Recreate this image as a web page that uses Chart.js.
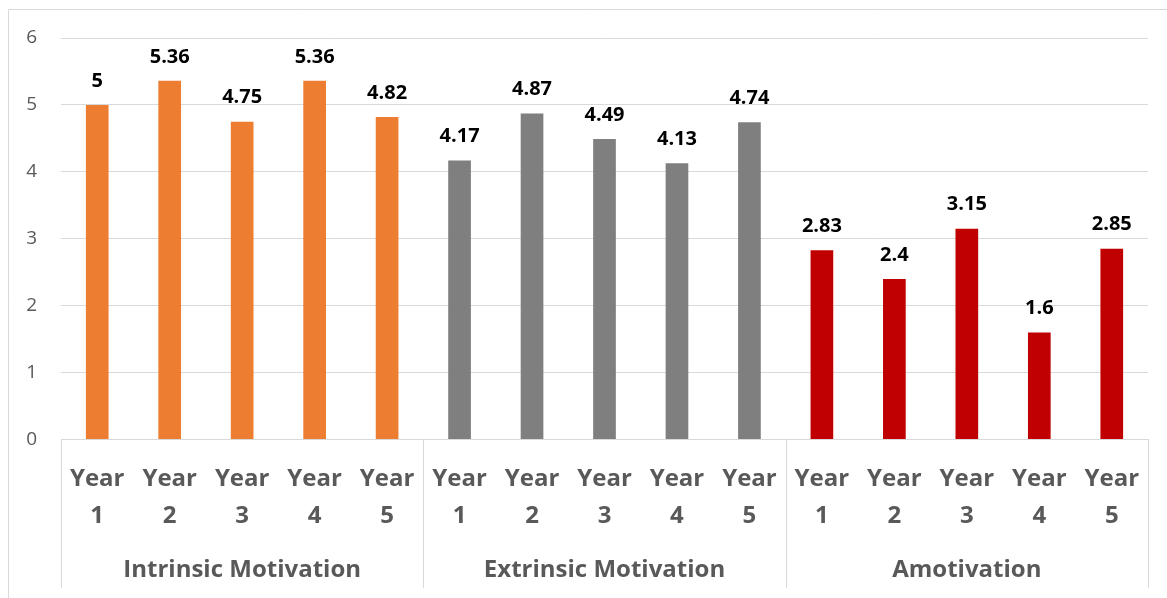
<!DOCTYPE html>
<html>
<head>
<meta charset="utf-8">
<script src="https://cdn.jsdelivr.net/npm/chart.js@4/dist/chart.umd.min.js"></script>
<style>
  html, body { margin: 0; padding: 0; background: #ffffff; }
  #wrap { position: relative; width: 1167px; height: 598px; }
</style>
</head>
<body>
<div id="wrap"><canvas id="c" width="1167" height="598"></canvas></div>
<script>
const groups = ["Intrinsic Motivation", "Extrinsic Motivation", "Amotivation"];
const years = [["Year", "1"], ["Year", "2"], ["Year", "3"], ["Year", "4"], ["Year", "5"]];
const intrinsic = [5, 5.36, 4.75, 5.36, 4.82];
const extrinsic = [4.17, 4.87, 4.49, 4.13, 4.74];
const amotivation = [2.83, 2.4, 3.15, 1.6, 2.85];
const groupColors = ["#ED7D31", "#7F7F7F", "#C00000"];
const yTicks = [0, 1, 2, 3, 4, 5, 6];

const series = [intrinsic, extrinsic, amotivation];
const labels = [];
const values = [];
const colors = [];
series.forEach((s, g) => {
  s.forEach((v, i) => {
    labels.push(years[i]);
    values.push(v);
    colors.push(groupColors[g]);
  });
});

const TEXT = "#595959";
const GRID = "#D9D9D9";
const FONT = "'Open Sans', 'Liberation Sans', sans-serif";

const decorPlugin = {
  id: "decor",
  beforeDraw(chart) {
    const ctx = chart.ctx;
    ctx.save();
    ctx.strokeStyle = GRID;
    ctx.lineWidth = 1;
    ctx.beginPath();
    ctx.moveTo(8.5, 598);
    ctx.lineTo(8.5, 9.5);
    ctx.lineTo(1167, 9.5);
    ctx.stroke();
    ctx.restore();
  },
  afterDraw(chart) {
    const ctx = chart.ctx;
    const x = chart.scales.x;
    const area = chart.chartArea;
    const n = series[0].length;
    const half = (x.getPixelForValue(1) - x.getPixelForValue(0)) / 2;
    ctx.save();
    ctx.strokeStyle = GRID;
    ctx.lineWidth = 1;
    for (let g = 0; g <= groups.length; g++) {
      const idx = g * n;
      const px = Math.round(idx < labels.length ? x.getPixelForValue(idx) - half : x.getPixelForValue(labels.length - 1) + half) + 0.5;
      ctx.beginPath();
      ctx.moveTo(px, area.bottom);
      ctx.lineTo(px, 588);
      ctx.stroke();
    }
    ctx.fillStyle = TEXT;
    ctx.font = "bold 24px " + FONT;
    ctx.textAlign = "center";
    ctx.textBaseline = "middle";
    groups.forEach((name, g) => {
      const a = x.getPixelForValue(g * n) - half;
      const b = x.getPixelForValue(g * n + n - 1) + half;
      ctx.fillText(name, (a + b) / 2, 570);
    });
    // data labels
    const meta = chart.getDatasetMeta(0);
    ctx.fillStyle = "#000000";
    ctx.font = "bold 20px " + FONT;
    meta.data.forEach((bar, i) => {
      ctx.fillText(String(values[i]), bar.x, bar.y - 24);
    });
    ctx.restore();
  }
};

new Chart(document.getElementById("c"), {
  type: "bar",
  data: {
    labels: labels,
    datasets: [{
      data: values,
      backgroundColor: colors,
      borderWidth: 0,
      barPercentage: 0.313,
      categoryPercentage: 1.0
    }]
  },
  options: {
    responsive: false,
    animation: false,
    devicePixelRatio: 1,
    layout: { padding: { top: 38, right: 19, bottom: 0, left: 0 } },
    plugins: { legend: { display: false }, tooltip: { enabled: false } },
    scales: {
      x: {
        grid: { display: false, drawTicks: false },
        border: { display: true, color: GRID, width: 1 },
        ticks: {
          color: TEXT,
          font: { family: FONT, size: 24, weight: "bold", lineHeight: 1.54 },
          padding: 21,
          maxRotation: 0,
          autoSkip: false
        },
        afterFit(scale) { scale.height = 158.5; }
      },
      y: {
        min: 0,
        max: 6,
        afterBuildTicks(scale) { scale.ticks = yTicks.map(v => ({ value: v })); },
        grid: { color: GRID, lineWidth: 1, drawTicks: false },
        border: { display: false },
        ticks: {
          color: TEXT,
          font: { family: FONT, size: 19 },
          padding: 24
        },
        afterFit(scale) { scale.width = 61; }
      }
    }
  },
  plugins: [decorPlugin]
});
</script>
</body>
</html>
